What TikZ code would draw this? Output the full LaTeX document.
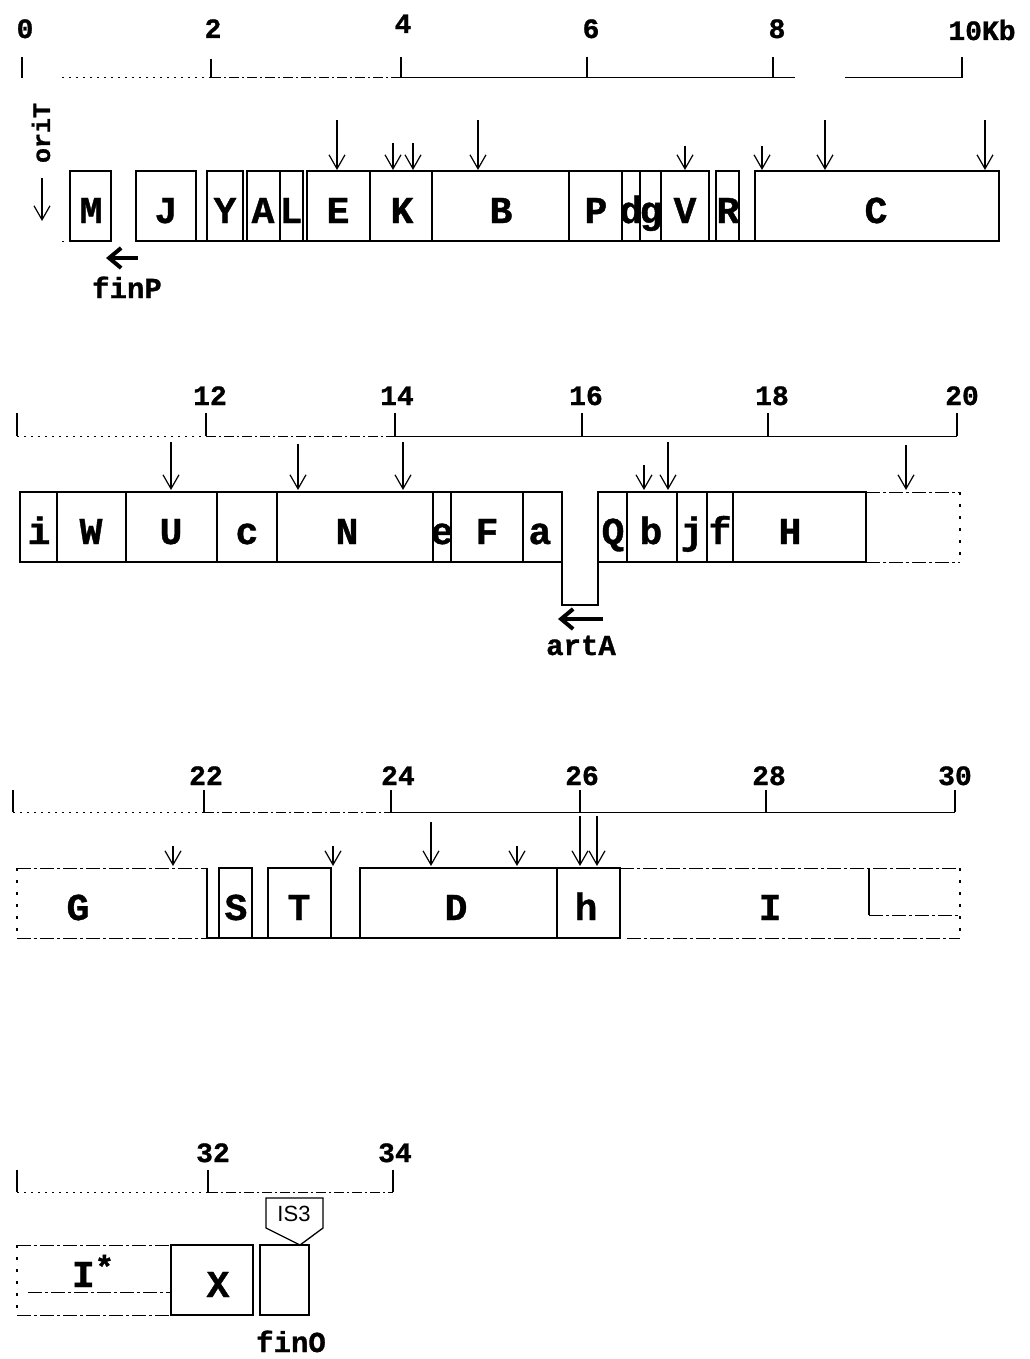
\documentclass[tikz,border=0pt]{standalone}
\usepackage{fontspec}
\setmainfont{Liberation Mono}[BoldFeatures={FakeBold=1}]
\newfontfamily\sansf{Liberation Sans}
\usetikzlibrary{arrows.meta}
\tikzset{
  gene/.style={draw, line width=1.3pt, inner sep=0pt, minimum height=70pt},
  glabel/.style={font=\fontsize{38}{38}\selectfont\bfseries, inner sep=0pt, anchor=base},
  num/.style={font=\fontsize{28}{28}\selectfont\bfseries, inner sep=0pt, anchor=base},
  tagtext/.style={font=\fontsize{29}{29}\selectfont\bfseries, inner sep=0pt, anchor=base},
  rulerline/.style={line width=1pt},
  rulerdot/.style={line width=1pt, dash pattern=on 2pt off 5pt},
  rulerdd/.style={line width=1pt, dash pattern=on 10pt off 3pt on 2pt off 3pt},
  tickline/.style={line width=1.3pt},
  cut/.style={-{Straight Barb[length=14pt,width=16pt]}, line width=1.2pt},
  dirarrow/.style={-{Straight Barb[length=12pt,width=20pt]}, line width=4pt},
  dashline/.style={line width=1pt, dash pattern=on 14pt off 3pt on 3pt off 3pt},
  dotline/.style={line width=1.5pt, dash pattern=on 3pt off 9pt},
  solidline/.style={line width=1.3pt},
}
% name, x1, x2, ycenter, label, label x
\newcommand\gbox[6]{%
  \node[gene, minimum width={(#3-#2)*1pt}] (#1) at ({(#2+#3)/2},#4) {};
  \node[glabel] (#1t) at (#6,#4+17) {#5};}
\begin{document}
\begin{tikzpicture}[x=1pt,y=-1pt]
\useasboundingbox (0,0) rectangle (1029,1359);

% ================= ROW 1 =================
\draw[rulerdot] (62,78) -- (211,78);
\draw[rulerdd] (211,78) -- (401,78);
\draw[rulerline] (401,78) -- (795,78);
\draw[rulerline] (845,78) -- (962,78);
\foreach \x/\t in {22/57,211/59,401/57,587/57,773/57,962/57}
  \draw[tickline] (\x,\t) -- (\x,78);
\node[num] (n0) at (25,38) {0};
\node[num] (n2) at (213,38) {2};
\node[num] (n4) at (403,33) {4};
\node[num] (n6) at (591,38) {6};
\node[num] (n8) at (777,38) {8};
\node[num] (n10) at (982,40) {10Kb};

\draw[rulerdot] (62,241) -- (70,241);
\draw[solidline] (196,241) -- (755,241);
\gbox{r1M}{70}{111}{206}{M}{91}
\gbox{r1J}{136}{196}{206}{J}{166}
\gbox{r1Y}{207}{243}{206}{Y}{225}
\gbox{r1A}{247}{280}{206}{A}{263}
\gbox{r1L}{280}{303}{206}{L}{291}
\gbox{r1E}{307}{370}{206}{E}{338}
\gbox{r1K}{370}{432}{206}{K}{402}
\gbox{r1B}{432}{569}{206}{B}{501}
\gbox{r1P}{569}{622}{206}{P}{596}
\gbox{r1d}{622}{640}{206}{d}{631}
\gbox{r1g}{640}{661}{206}{g}{651}
\gbox{r1V}{661}{709}{206}{V}{685}
\gbox{r1R}{716}{739}{206}{R}{728}
\gbox{r1C}{755}{999}{206}{C}{876}

\node[tagtext, anchor=center, rotate=90, font=\fontsize{25}{25}\selectfont\bfseries] (oriT) at (41,133) {oriT};
\draw[cut] (42,178) -- (42,221);
\foreach \x/\s in {337/120,393/143,413/143,478/120,685/146,762/146,825/120,985/120}
  \draw[cut] (\x,\s) -- (\x,170);

\coordinate (finPs) at (138,258);
\coordinate (finPe) at (106,258);
\draw[dirarrow] (finPs) -- (finPe);
\node[tagtext] (finP) at (127,298) {finP};

% ================= ROW 2 =================
\draw[rulerdot] (17,436) -- (206,436);
\draw[rulerdd] (206,436) -- (395,436);
\draw[rulerline] (395,436) -- (957,436);
\foreach \x in {17,206,395,582,768,957}
  \draw[tickline] (\x,413) -- (\x,436);
\node[num] (n12) at (210,405) {12};
\node[num] (n14) at (397,405) {14};
\node[num] (n16) at (586,405) {16};
\node[num] (n18) at (772,405) {18};
\node[num] (n20) at (962,405) {20};

\gbox{r2i}{20}{57}{527}{i}{39}
\gbox{r2W}{57}{126}{527}{W}{91}
\gbox{r2U}{126}{217}{527}{U}{171}
\gbox{r2c}{217}{277}{527}{c}{247}
\gbox{r2N}{277}{433}{527}{N}{347}
\gbox{r2e}{433}{451}{527}{e}{442}
\gbox{r2F}{451}{523}{527}{F}{487}
\gbox{r2a}{523}{562}{527}{a}{540}
\gbox{r2Q}{598}{627}{527}{Q}{613}
\gbox{r2b}{627}{677}{527}{b}{651}
\gbox{r2j}{677}{707}{527}{j}{692}
\gbox{r2f}{707}{733}{527}{f}{720}
\gbox{r2H}{733}{866}{527}{H}{790}
% open-ended region right of H
\draw[dashline] (866,492) -- (960,492);
\draw[dashline] (866,562) -- (960,562);
\draw[dotline] (960,492) -- (960,562);
% artA notch
\draw[solidline] (562,562) -- (562,605) -- (598,605) -- (598,562);
\foreach \x/\s in {171/442,298/444,403/442,644/465,668/442,906/445}
  \draw[cut] (\x,\s) -- (\x,490);
\coordinate (artAs) at (603,619);
\coordinate (artAe) at (558,619);
\draw[dirarrow] (artAs) -- (artAe);
\node[tagtext] (artA) at (581,655) {artA};

% ================= ROW 3 =================
\draw[rulerdot] (13,812) -- (204,812);
\draw[rulerdd] (204,812) -- (391,812);
\draw[rulerline] (391,812) -- (955,812);
\foreach \x in {13,204,391,580,766,955}
  \draw[tickline] (\x,790) -- (\x,812);
\node[num] (n22) at (206,785) {22};
\node[num] (n24) at (398,785) {24};
\node[num] (n26) at (582,785) {26};
\node[num] (n28) at (769,785) {28};
\node[num] (n30) at (955,785) {30};

% G region
\draw[dotline] (17,868) -- (17,938);
\draw[dashline] (17,868) -- (207,868);
\draw[dashline] (17,938) -- (207,938);
\draw[solidline] (207,868) -- (207,938);
\node[glabel] (r3Gt) at (78,920) {G};
\draw[solidline] (207,938) -- (360,938);
\gbox{r3S}{219}{252}{903}{S}{236}
\gbox{r3T}{268}{331}{903}{T}{299}
\gbox{r3D}{360}{557}{903}{D}{456}
\gbox{r3h}{557}{620}{903}{h}{586}
% I region
\draw[dashline] (620,868) -- (960,868);
\draw[dashline] (627,938) -- (960,938);
\draw[dotline] (960,868) -- (960,938);
\draw[solidline] (869,868) -- (869,915);
\draw[dashline] (869,915) -- (958,915);
\node[glabel] (r3It) at (770,920) {I};
\foreach \x/\s in {173/846,333/846,431/822,517/846,580/816,597/816}
  \draw[cut] (\x,\s) -- (\x,866);

% ================= ROW 4 =================
\draw[rulerdot] (17,1192) -- (208,1192);
\draw[rulerdd] (208,1192) -- (393,1192);
\foreach \x in {17,208,393}
  \draw[tickline] (\x,1170) -- (\x,1192);
\node[num] (n32) at (213,1162) {32};
\node[num] (n34) at (395,1162) {34};

\draw[dotline] (17,1245) -- (17,1315);
\draw[dashline] (17,1245) -- (171,1245);
\draw[dashline] (17,1315) -- (171,1315);
\draw[dashline] (28,1292) -- (171,1292);
\node[glabel] (r4It) at (93,1287) {I\raisebox{9pt}{\fontsize{32}{32}\selectfont *}};
\gbox{r4X}{171}{253}{1280}{X}{218}
\node[gene, minimum width=49pt] (r4O) at (284.5,1280) {};
\node[tagtext] (finO) at (291,1352) {finO};
\draw[solidline, fill=white] (266,1198) -- (323,1198) -- (323,1228) -- (300,1245) -- (266,1228) -- cycle;
\node[font=\sansf\fontsize{22}{22}\selectfont, inner sep=0pt] (is3) at (294,1214) {IS3};
\end{tikzpicture}
\end{document}
